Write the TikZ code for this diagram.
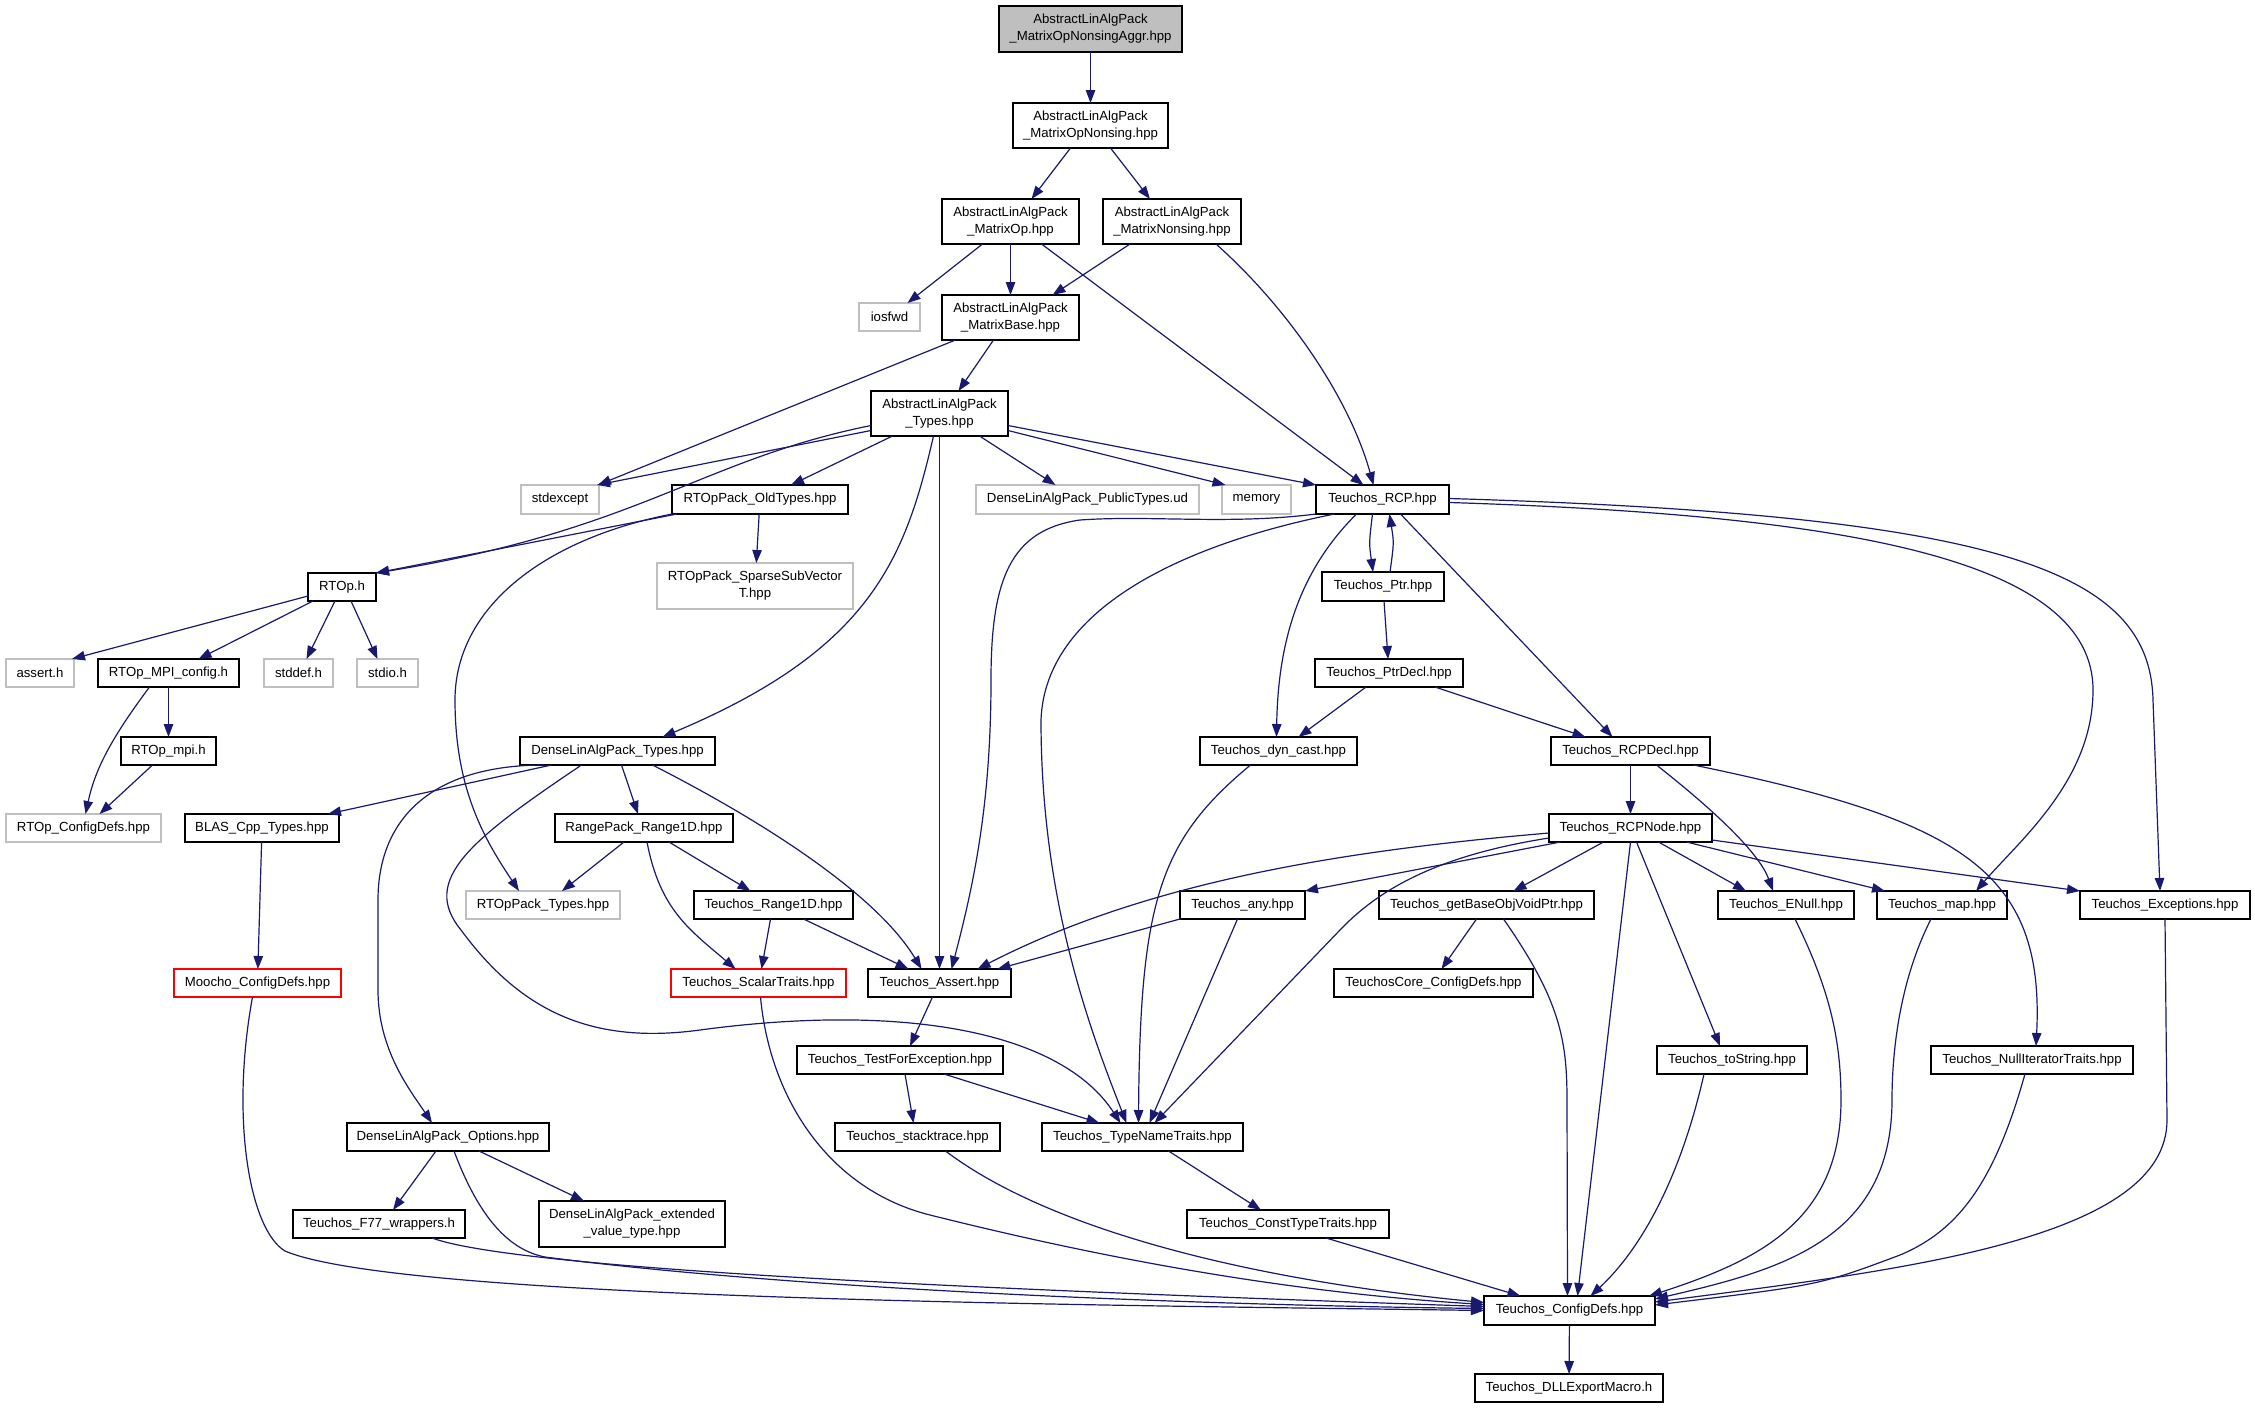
\documentclass[tikz,border=0pt]{standalone}
\usepackage{fontspec}
\setmainfont{Liberation Sans}
\usetikzlibrary{arrows.meta}
\definecolor{edgec}{HTML}{191970}
\definecolor{grayc}{HTML}{BFBFBF}
\definecolor{topfill}{HTML}{BFBFBF}
\newcommand\nodefnt{\fontsize{13.2}{17}\selectfont}
\tikzset{
 nb/.style={draw=black, line width=1.4pt, fill=white, inner sep=0pt, outer sep=0pt, align=center, font=\nodefnt},
 ng/.style={nb, draw=grayc},
 nr/.style={nb, draw=red},
 ed/.style={draw=edgec, line width=1.2pt, -{Triangle[length=13pt,width=9.5pt]}},
}
\begin{document}
\begin{tikzpicture}[x=1pt,y=-1pt]
\fill[white] (0,0) rectangle (2255,1408);
\useasboundingbox (0,0) rectangle (2255,1408);
% nodes
\node[nb, fill=topfill, minimum width=183pt, minimum height=46pt] (top) at (1090.5,29) {AbstractLinAlgPack\\\_MatrixOpNonsingAggr.hpp};
\node[nb, minimum width=155pt, minimum height=45pt] (nonsing) at (1090.5,125.5) {AbstractLinAlgPack\\\_MatrixOpNonsing.hpp};
\node[nb, minimum width=137pt, minimum height=45pt] (matop) at (1010.5,221.5) {AbstractLinAlgPack\\\_MatrixOp.hpp};
\node[nb, minimum width=138pt, minimum height=45pt] (matnons) at (1172,221.5) {AbstractLinAlgPack\\\_MatrixNonsing.hpp};
\node[ng, minimum width=61pt, minimum height=28pt] (iosfwd) at (889.5,317) {iosfwd};
\node[nb, minimum width=137pt, minimum height=45pt] (matbase) at (1010.5,317.5) {AbstractLinAlgPack\\\_MatrixBase.hpp};
\node[nb, minimum width=137pt, minimum height=45pt] (types) at (939.5,413.5) {AbstractLinAlgPack\\\_Types.hpp};
\node[ng, minimum width=78pt, minimum height=29pt] (stdexcept) at (560,499.5) {stdexcept};
\node[nb, minimum width=176pt, minimum height=29pt] (oldtypes) at (760,499.5) {RTOpPack\_OldTypes.hpp};
\node[ng, minimum width=223pt, minimum height=29pt] (publictypes) at (1087.5,499.5) {DenseLinAlgPack\_PublicTypes.ud};
\node[ng, minimum width=69pt, minimum height=29pt] (memory) at (1256.5,499.5) {memory};
\node[nb, minimum width=133pt, minimum height=29pt] (rcp) at (1382.5,499.5) {Teuchos\_RCP.hpp};
\node[ng, minimum width=196pt, minimum height=46pt] (sparse) at (755,586) {RTOpPack\_SparseSubVector\\T.hpp};
\node[nb, minimum width=68pt, minimum height=28pt] (rtoph) at (342,587) {RTOp.h};
\node[ng, minimum width=68pt, minimum height=28pt] (asserth) at (40,673) {assert.h};
\node[nb, minimum width=141pt, minimum height=28pt] (mpiconfig) at (168.5,673) {RTOp\_MPI\_config.h};
\node[ng, minimum width=69pt, minimum height=28pt] (stddef) at (298.5,673) {stddef.h};
\node[ng, minimum width=61pt, minimum height=28pt] (stdio) at (387.5,673) {stdio.h};
\node[nb, minimum width=122pt, minimum height=29pt] (ptr) at (1383,586.5) {Teuchos\_Ptr.hpp};
\node[nb, minimum width=148pt, minimum height=28pt] (ptrdecl) at (1389,673) {Teuchos\_PtrDecl.hpp};
\node[nb, minimum width=95pt, minimum height=28pt] (rtopmpi) at (168.5,751) {RTOp\_mpi.h};
\node[nb, minimum width=195pt, minimum height=28pt] (dtypes) at (617.5,751) {DenseLinAlgPack\_Types.hpp};
\node[nb, minimum width=157pt, minimum height=28pt] (dyncast) at (1278.5,751) {Teuchos\_dyn\_cast.hpp};
\node[nb, minimum width=159pt, minimum height=28pt] (rcpdecl) at (1630.5,751) {Teuchos\_RCPDecl.hpp};
\node[ng, minimum width=155pt, minimum height=28pt] (rtopconfig) at (83.5,828) {RTOp\_ConfigDefs.hpp};
\node[nb, minimum width=154pt, minimum height=28pt] (blas) at (262,828) {BLAS\_Cpp\_Types.hpp};
\node[nb, minimum width=178pt, minimum height=28pt] (range1d) at (644,828) {RangePack\_Range1D.hpp};
\node[nb, minimum width=163pt, minimum height=28pt] (rcpnode) at (1630.5,828) {Teuchos\_RCPNode.hpp};
\node[ng, minimum width=154pt, minimum height=28pt] (rtoptypes) at (543,905) {RTOpPack\_Types.hpp};
\node[nb, minimum width=159pt, minimum height=28pt] (trange1d) at (773.5,905) {Teuchos\_Range1D.hpp};
\node[nb, minimum width=125pt, minimum height=28pt] (any) at (1242.5,905) {Teuchos\_any.hpp};
\node[nb, minimum width=215pt, minimum height=28pt] (getbase) at (1486.5,905) {Teuchos\_getBaseObjVoidPtr.hpp};
\node[nb, minimum width=136pt, minimum height=28pt] (enull) at (1786,905) {Teuchos\_ENull.hpp};
\node[nb, minimum width=130pt, minimum height=28pt] (map) at (1942,905) {Teuchos\_map.hpp};
\node[nb, minimum width=170pt, minimum height=28pt] (exceptions) at (2165,905) {Teuchos\_Exceptions.hpp};
\node[nr, minimum width=167pt, minimum height=28pt] (moocho) at (257.5,983) {Moocho\_ConfigDefs.hpp};
\node[nr, minimum width=175pt, minimum height=28pt] (scalar) at (758.5,983) {Teuchos\_ScalarTraits.hpp};
\node[nb, minimum width=143pt, minimum height=28pt] (tassert) at (939.5,983) {Teuchos\_Assert.hpp};
\node[nb, minimum width=199pt, minimum height=28pt] (coreconfig) at (1433.5,983) {TeuchosCore\_ConfigDefs.hpp};
\node[nb, minimum width=206pt, minimum height=28pt] (testexc) at (900,1060) {Teuchos\_TestForException.hpp};
\node[nb, minimum width=150pt, minimum height=28pt] (tostring) at (1732,1060) {Teuchos\_toString.hpp};
\node[nb, minimum width=202pt, minimum height=28pt] (nulliter) at (2032,1060) {Teuchos\_NullIteratorTraits.hpp};
\node[nb, minimum width=202pt, minimum height=28pt] (options) at (448,1137) {DenseLinAlgPack\_Options.hpp};
\node[nb, minimum width=165pt, minimum height=28pt] (stacktrace) at (917.5,1137) {Teuchos\_stacktrace.hpp};
\node[nb, minimum width=201pt, minimum height=28pt] (typename) at (1142.5,1137) {Teuchos\_TypeNameTraits.hpp};
\node[nb, minimum width=172pt, minimum height=28pt] (f77) at (379,1224) {Teuchos\_F77\_wrappers.h};
\node[nb, minimum width=186pt, minimum height=46pt] (extended) at (632,1224) {DenseLinAlgPack\_extended\\\_value\_type.hpp};
\node[nb, minimum width=202pt, minimum height=28pt] (consttype) at (1288,1224) {Teuchos\_ConstTypeTraits.hpp};
\node[nb, minimum width=171pt, minimum height=29pt] (configdefs) at (1569.5,1310.5) {Teuchos\_ConfigDefs.hpp};
\node[nb, minimum width=188pt, minimum height=28pt] (dll) at (1569,1388) {Teuchos\_DLLExportMacro.h};
% edges
\draw[ed] (top) -- (nonsing);
\draw[ed] ([xshift=-20pt]nonsing.south) -- ([xshift=21pt]matop.north);
\draw[ed] ([xshift=20pt]nonsing.south) -- ([xshift=-22pt]matnons.north);
\draw[ed] ([xshift=-28pt]matop.south) -- ([xshift=18pt]iosfwd.north);
\draw[ed] (matop) -- (matbase);
\draw[ed] ([xshift=31pt]matop.south) -- ([xshift=-19pt]rcp.north);
\draw[ed] ([xshift=-42pt]matnons.south) -- ([xshift=42pt]matbase.north);
\draw[ed] ([xshift=44pt]matnons.south) .. controls (1290,310) and (1350,400) .. ([xshift=-9pt]rcp.north);
\draw[ed] ([xshift=-55pt]matbase.south) -- ([xshift=38pt]stdexcept.north);
\draw[ed] ([xshift=-17pt]matbase.south) -- ([xshift=19pt]types.north);
\draw[ed] ([yshift=-17pt]types.west) -- ([xshift=-2pt]stdexcept.north east);
\draw[ed] ([yshift=-12pt]types.west) .. controls (700,460) and (640,530) .. (rtoph.north east);
\draw[ed] ([xshift=-47pt]types.south) -- ([xshift=31pt]oldtypes.north);
\draw[ed] ([xshift=-6pt]types.south) .. controls (905,560) and (870,650) .. ([xshift=45pt]dtypes.north);
\draw[ed] (types) -- (tassert);
\draw[ed] ([xshift=40pt]types.south) -- ([xshift=-32pt]publictypes.north);
\draw[ed] ([yshift=-17pt]types.east) -- ([xshift=-31pt]memory.north);
\draw[ed] ([yshift=-12pt]types.east) -- (rcp.north west);
\draw[ed] ([xshift=-83pt]oldtypes.south) -- (rtoph.north east);
\draw[ed] (oldtypes.south west) .. controls (540,540) and (455,610) .. (455,700) .. controls (455,790) and (485,840) .. ([xshift=-24pt]rtoptypes.north);
\draw[ed] (oldtypes) -- (sparse);
\draw[ed] ([xshift=-10pt]rcp.south) .. controls (1369,543) .. ([xshift=-10pt]ptr.north);
\draw[ed] ([xshift=7pt]ptr.north) .. controls (1394,543) .. ([xshift=7pt]rcp.south);
\draw[ed] (ptr) -- (ptrdecl);
\draw[ed] (rcp.south west) .. controls (1230,525) and (1150,515) .. (1080,520) .. controls (1010,530) and (991,580) .. (991,680) .. controls (991,800) and (975,880) .. ([xshift=12pt]tassert.north);
\draw[ed] ([xshift=-48pt]rcp.south) .. controls (1180,545) and (1045,610) .. (1041,720) .. controls (1041,900) and (1090,1030) .. ([xshift=-16pt]typename.north);
\draw[ed] ([xshift=-26pt]rcp.south) .. controls (1300,570) and (1278,640) .. ([xshift=-2pt]dyncast.north);
\draw[ed] ([xshift=18pt]rcp.south) -- ([xshift=-18pt]rcpdecl.north);
\draw[ed] ([yshift=-3pt]rcp.east) .. controls (1850,515) and (2093,560) .. (2093,690) .. controls (2093,780) and (2020,840) .. ([xshift=34pt]map.north);
\draw[ed] ([yshift=1pt]rcp.east) .. controls (2000,515) and (2150,570) .. (2153,700) -- ([xshift=-5pt]exceptions.north);
\draw[ed] ([xshift=-23pt]ptrdecl.south) -- ([xshift=20pt]dyncast.north);
\draw[ed] ([xshift=46pt]ptrdecl.south) -- ([xshift=-45pt]rcpdecl.north);
\draw[ed] ([xshift=-28pt]dyncast.south) .. controls (1160,840) and (1140,900) .. ([xshift=-4pt]typename.north);
\draw[ed] (rcpdecl) -- (rcpnode);
\draw[ed] ([xshift=26pt]rcpdecl.south) .. controls (1720,815) and (1760,855) .. ([xshift=-13pt]enull.north);
\draw[ed] ([xshift=63pt]rcpdecl.south) .. controls (1960,820) and (2045,870) .. ([xshift=4pt]nulliter.north);
\draw[ed] ([yshift=-5pt]rcpnode.west) .. controls (1350,850) and (1150,880) .. ([xshift=38pt]tassert.north);
\draw[ed] (any.south west) -- ([xshift=58pt]tassert.north);
\draw[ed] ([xshift=-70pt]rcpnode.south) -- (any.north east);
\draw[ed] ([yshift=-10pt]rcpnode.west) .. controls (1440,855) and (1380,888) .. (1340,930) -- ([xshift=12pt]typename.north);
\draw[ed] ([xshift=-27pt]rcpnode.south) -- ([xshift=27pt]getbase.north);
\draw[ed] (rcpnode.south) -- ([xshift=8pt]configdefs.north);
\draw[ed] ([xshift=6pt]rcpnode.south) -- ([xshift=-12pt]tostring.north);
\draw[ed] ([xshift=28pt]rcpnode.south) -- ([xshift=-40pt]enull.north);
\draw[ed] ([xshift=56pt]rcpnode.south) -- ([xshift=-57pt]map.north);
\draw[ed] ([yshift=-12pt]rcpnode.east) -- (exceptions.north west);
\draw[ed] ([xshift=-5pt]any.south) -- ([xshift=7pt]typename.north);
\draw[ed] ([xshift=-10pt]getbase.south) -- ([xshift=8pt]coreconfig.north);
\draw[ed] ([xshift=17pt]getbase.south) .. controls (1560,1000) and (1567,1040) .. (1567,1100) -- ([xshift=-2pt]configdefs.north);
\draw[ed] ([xshift=9pt]enull.south) .. controls (1830,990) and (1841,1040) .. (1841,1100) .. controls (1841,1220) and (1760,1260) .. ([xshift=-6pt]configdefs.north east);
\draw[ed] ([xshift=-11pt]map.south) .. controls (1900,980) and (1892,1050) .. (1892,1100) .. controls (1892,1240) and (1780,1270) .. ([yshift=-3pt]configdefs.north east);
\draw[ed] (exceptions.south) -- (2167,1120) .. controls (2167,1240) and (1900,1270) .. ([yshift=-6pt]configdefs.north east);
\draw[ed] ([xshift=-7pt]nulliter.south) .. controls (1995,1180) and (1960,1230) .. (1900,1255) .. controls (1820,1285) .. ([yshift=-9pt]configdefs.north east);
\draw[ed] ([xshift=-28pt]tostring.south) .. controls (1680,1180) and (1640,1250) .. ([xshift=21pt]configdefs.north);
\draw[ed] ([xshift=38pt]consttype.south) -- ([xshift=-49pt]configdefs.north);
\draw[ed] ([xshift=26pt]typename.south) -- ([xshift=-27pt]consttype.north);
\draw[ed] (configdefs) -- (dll);
\draw[ed] ([xshift=28pt]stacktrace.south) .. controls (1050,1230) and (1250,1280) .. ([yshift=8pt]configdefs.west);
\draw[ed] ([xshift=2pt]scalar.south) .. controls (770,1100) and (830,1190) .. (930,1215) .. controls (1050,1245) and (1250,1290) .. ([yshift=6pt]configdefs.west);
\draw[ed] ([xshift=6pt]options.south) .. controls (480,1220) and (510,1250) .. (545,1257) .. controls (800,1290) and (1200,1305) .. ([yshift=2pt]configdefs.west);
\draw[ed] ([xshift=53pt]f77.south) .. controls (520,1270) and (1000,1290) .. ([yshift=4pt]configdefs.west);
\draw[ed] ([xshift=-5pt]moocho.south) .. controls (230,1120) and (250,1230) .. (285,1251) .. controls (400,1300) and (1100,1305) .. (configdefs.west);
\draw[ed] ([xshift=-12pt]options.south) -- ([xshift=14pt]f77.north);
\draw[ed] ([xshift=31pt]options.south) -- ([xshift=-48pt]extended.north);
\draw[ed] ([xshift=-66pt]dtypes.south) -- ([xshift=66pt]blas.north);
\draw[ed] ([xshift=4pt]dtypes.south) -- ([xshift=-6pt]range1d.north);
\draw[ed] ([xshift=-73pt]dtypes.south) .. controls (430,765) and (378,820) .. (378,900) -- (378,990) .. controls (378,1050) and (410,1090) .. ([xshift=-16pt]options.north);
\draw[ed] ([xshift=-36pt]dtypes.south) .. controls (470,840) and (420,880) .. (461,930) .. controls (520,1010) and (590,1045) .. (700,1030) .. controls (900,1003) and (1060,1030) .. ([xshift=-22pt]typename.north);
\draw[ed] ([xshift=35pt]dtypes.south) .. controls (780,830) and (880,900) .. ([xshift=-18pt]tassert.north);
\draw[ed] (blas) -- (moocho);
\draw[ed] ([xshift=-20pt]range1d.south) -- ([xshift=19pt]rtoptypes.north);
\draw[ed] ([xshift=25pt]range1d.south) -- ([xshift=-23pt]trange1d.north);
\draw[ed] ([xshift=3pt]range1d.south) .. controls (660,910) and (690,930) .. ([xshift=-23pt]scalar.north);
\draw[ed] ([xshift=-3pt]trange1d.south) -- ([xshift=3pt]scalar.north);
\draw[ed] ([xshift=30pt]trange1d.south) -- ([xshift=-31pt]tassert.north);
\draw[ed] ([xshift=-7pt]tassert.south) -- ([xshift=10pt]testexc.north);
\draw[ed] ([xshift=5pt]testexc.south) -- ([xshift=-4pt]stacktrace.north);
\draw[ed] ([xshift=44pt]testexc.south) -- ([xshift=-43pt]typename.north);
\draw[ed] ([yshift=-9pt]rtoph.west) -- ([xshift=-2pt]asserth.north east);
\draw[ed] ([xshift=-29pt]rtoph.south) -- ([xshift=30pt]mpiconfig.north);
\draw[ed] ([xshift=-7pt]rtoph.south) -- ([xshift=8pt]stddef.north);
\draw[ed] ([xshift=9pt]rtoph.south) -- ([xshift=-10pt]stdio.north);
\draw[ed] (mpiconfig) -- (rtopmpi);
\draw[ed] ([xshift=-19pt]mpiconfig.south) .. controls (110,740) and (95,770) .. ([xshift=2pt]rtopconfig.north);
\draw[ed] ([xshift=-16pt]rtopmpi.south) -- ([xshift=16pt]rtopconfig.north);
\end{tikzpicture}
\end{document}
